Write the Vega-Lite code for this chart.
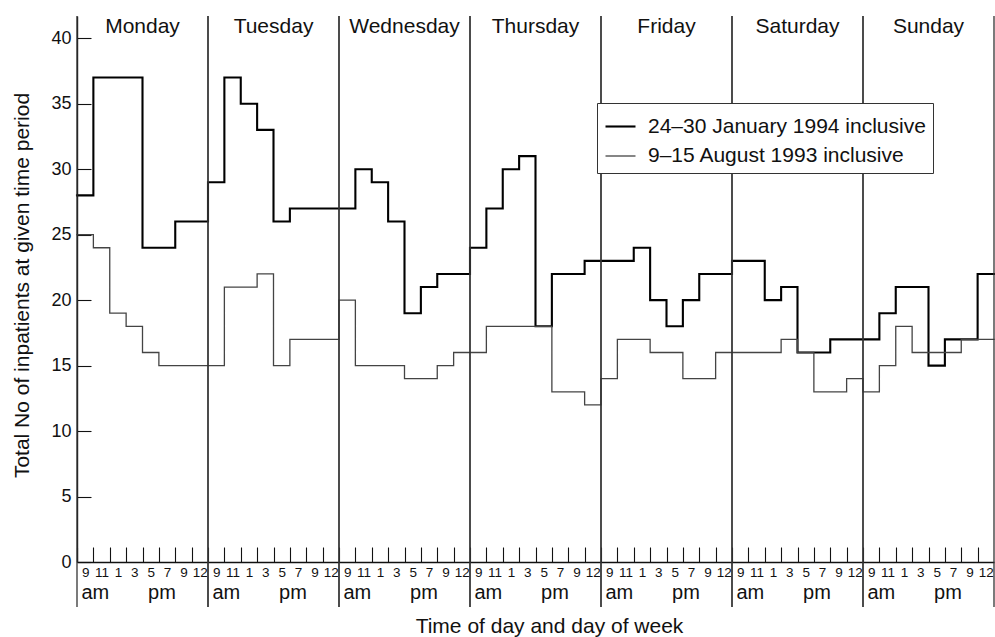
{
  "$schema": "https://vega.github.io/schema/vega-lite/v6.json",
  "width": 917,
  "height": 546,
  "autosize": {"type": "none"},
  "padding": {"left": 77, "top": 16, "right": 1, "bottom": 75},
  "background": "white",
  "config": {"view": {"stroke": null}, "font": "Liberation Sans", "text": {"font": "Liberation Sans"}},
  "datasets": {
    "days": [
      {"day": "Monday", "start": 0, "end": 8},
      {"day": "Tuesday", "start": 8, "end": 16},
      {"day": "Wednesday", "start": 16, "end": 24},
      {"day": "Thursday", "start": 24, "end": 32},
      {"day": "Friday", "start": 32, "end": 40},
      {"day": "Saturday", "start": 40, "end": 48},
      {"day": "Sunday", "start": 48, "end": 56}
    ],
    "counts": [
      {"period": "Jan", "slot": 0, "patients": 28}, {"period": "Jan", "slot": 1, "patients": 37}, {"period": "Jan", "slot": 2, "patients": 37}, {"period": "Jan", "slot": 3, "patients": 37},
      {"period": "Jan", "slot": 4, "patients": 24}, {"period": "Jan", "slot": 5, "patients": 24}, {"period": "Jan", "slot": 6, "patients": 26}, {"period": "Jan", "slot": 7, "patients": 26},
      {"period": "Jan", "slot": 8, "patients": 29}, {"period": "Jan", "slot": 9, "patients": 37}, {"period": "Jan", "slot": 10, "patients": 35}, {"period": "Jan", "slot": 11, "patients": 33},
      {"period": "Jan", "slot": 12, "patients": 26}, {"period": "Jan", "slot": 13, "patients": 27}, {"period": "Jan", "slot": 14, "patients": 27}, {"period": "Jan", "slot": 15, "patients": 27},
      {"period": "Jan", "slot": 16, "patients": 27}, {"period": "Jan", "slot": 17, "patients": 30}, {"period": "Jan", "slot": 18, "patients": 29}, {"period": "Jan", "slot": 19, "patients": 26},
      {"period": "Jan", "slot": 20, "patients": 19}, {"period": "Jan", "slot": 21, "patients": 21}, {"period": "Jan", "slot": 22, "patients": 22}, {"period": "Jan", "slot": 23, "patients": 22},
      {"period": "Jan", "slot": 24, "patients": 24}, {"period": "Jan", "slot": 25, "patients": 27}, {"period": "Jan", "slot": 26, "patients": 30}, {"period": "Jan", "slot": 27, "patients": 31},
      {"period": "Jan", "slot": 28, "patients": 18}, {"period": "Jan", "slot": 29, "patients": 22}, {"period": "Jan", "slot": 30, "patients": 22}, {"period": "Jan", "slot": 31, "patients": 23},
      {"period": "Jan", "slot": 32, "patients": 23}, {"period": "Jan", "slot": 33, "patients": 23}, {"period": "Jan", "slot": 34, "patients": 24}, {"period": "Jan", "slot": 35, "patients": 20},
      {"period": "Jan", "slot": 36, "patients": 18}, {"period": "Jan", "slot": 37, "patients": 20}, {"period": "Jan", "slot": 38, "patients": 22}, {"period": "Jan", "slot": 39, "patients": 22},
      {"period": "Jan", "slot": 40, "patients": 23}, {"period": "Jan", "slot": 41, "patients": 23}, {"period": "Jan", "slot": 42, "patients": 20}, {"period": "Jan", "slot": 43, "patients": 21},
      {"period": "Jan", "slot": 44, "patients": 16}, {"period": "Jan", "slot": 45, "patients": 16}, {"period": "Jan", "slot": 46, "patients": 17}, {"period": "Jan", "slot": 47, "patients": 17},
      {"period": "Jan", "slot": 48, "patients": 17}, {"period": "Jan", "slot": 49, "patients": 19}, {"period": "Jan", "slot": 50, "patients": 21}, {"period": "Jan", "slot": 51, "patients": 21},
      {"period": "Jan", "slot": 52, "patients": 15}, {"period": "Jan", "slot": 53, "patients": 17}, {"period": "Jan", "slot": 54, "patients": 17}, {"period": "Jan", "slot": 55, "patients": 22},
      {"period": "Jan", "slot": 56, "patients": 22},
      {"period": "Aug", "slot": 0, "patients": 25}, {"period": "Aug", "slot": 1, "patients": 24}, {"period": "Aug", "slot": 2, "patients": 19}, {"period": "Aug", "slot": 3, "patients": 18},
      {"period": "Aug", "slot": 4, "patients": 16}, {"period": "Aug", "slot": 5, "patients": 15}, {"period": "Aug", "slot": 6, "patients": 15}, {"period": "Aug", "slot": 7, "patients": 15},
      {"period": "Aug", "slot": 8, "patients": 15}, {"period": "Aug", "slot": 9, "patients": 21}, {"period": "Aug", "slot": 10, "patients": 21}, {"period": "Aug", "slot": 11, "patients": 22},
      {"period": "Aug", "slot": 12, "patients": 15}, {"period": "Aug", "slot": 13, "patients": 17}, {"period": "Aug", "slot": 14, "patients": 17}, {"period": "Aug", "slot": 15, "patients": 17},
      {"period": "Aug", "slot": 16, "patients": 20}, {"period": "Aug", "slot": 17, "patients": 15}, {"period": "Aug", "slot": 18, "patients": 15}, {"period": "Aug", "slot": 19, "patients": 15},
      {"period": "Aug", "slot": 20, "patients": 14}, {"period": "Aug", "slot": 21, "patients": 14}, {"period": "Aug", "slot": 22, "patients": 15}, {"period": "Aug", "slot": 23, "patients": 16},
      {"period": "Aug", "slot": 24, "patients": 16}, {"period": "Aug", "slot": 25, "patients": 18}, {"period": "Aug", "slot": 26, "patients": 18}, {"period": "Aug", "slot": 27, "patients": 18},
      {"period": "Aug", "slot": 28, "patients": 18}, {"period": "Aug", "slot": 29, "patients": 13}, {"period": "Aug", "slot": 30, "patients": 13}, {"period": "Aug", "slot": 31, "patients": 12},
      {"period": "Aug", "slot": 32, "patients": 14}, {"period": "Aug", "slot": 33, "patients": 17}, {"period": "Aug", "slot": 34, "patients": 17}, {"period": "Aug", "slot": 35, "patients": 16},
      {"period": "Aug", "slot": 36, "patients": 16}, {"period": "Aug", "slot": 37, "patients": 14}, {"period": "Aug", "slot": 38, "patients": 14}, {"period": "Aug", "slot": 39, "patients": 16},
      {"period": "Aug", "slot": 40, "patients": 16}, {"period": "Aug", "slot": 41, "patients": 16}, {"period": "Aug", "slot": 42, "patients": 16}, {"period": "Aug", "slot": 43, "patients": 17},
      {"period": "Aug", "slot": 44, "patients": 16}, {"period": "Aug", "slot": 45, "patients": 13}, {"period": "Aug", "slot": 46, "patients": 13}, {"period": "Aug", "slot": 47, "patients": 14},
      {"period": "Aug", "slot": 48, "patients": 13}, {"period": "Aug", "slot": 49, "patients": 15}, {"period": "Aug", "slot": 50, "patients": 18}, {"period": "Aug", "slot": 51, "patients": 16},
      {"period": "Aug", "slot": 52, "patients": 16}, {"period": "Aug", "slot": 53, "patients": 16}, {"period": "Aug", "slot": 54, "patients": 17}, {"period": "Aug", "slot": 55, "patients": 17},
      {"period": "Aug", "slot": 56, "patients": 17}
    ]
  },
  "layer": [
    {
      "data": {"name": "counts"},
      "mark": {"type": "line", "interpolate": "step-after", "strokeJoin": "miter", "strokeCap": "square"},
      "encoding": {
        "x": {
          "field": "slot",
          "type": "quantitative",
          "scale": {"domain": [0, 56], "nice": false, "zero": false},
          "axis": {
            "title": "Time of day and day of week",
            "values": [0,1,2,3,4,5,6,7,8,9,10,11,12,13,14,15,16,17,18,19,20,21,22,23,24,25,26,27,28,29,30,31,32,33,34,35,36,37,38,39,40,41,42,43,44,45,46,47,48,49,50,51,52,53,54,55],
            "tickCount": 200,
            "labelExpr": "['9','11','1','3','5','7','9','12'][datum.value % 8]",
            "tickSize": -15,
            "tickColor": "#111111",
            "tickWidth": 1.1,
            "labelOffset": 8.19,
            "labelPadding": 18,
            "labelFontSize": 13.5,
            "labelColor": "#111111",
            "labelOverlap": false,
            "labelFlush": false,
            "labelBound": false,
            "domainColor": "#111111",
            "domainWidth": 1.4,
            "grid": false,
            "titleFontSize": 21,
            "titleFontWeight": "normal",
            "titleColor": "#111111",
            "titleX": 472,
            "titleY": 70,
            "titleAlign": "center",
            "titleBaseline": "alphabetic"
          }
        },
        "y": {
          "field": "patients",
          "type": "quantitative",
          "scale": {"domain": [0, 41.7], "nice": false, "zero": true},
          "axis": {
            "title": "Total No of inpatients at given time period",
            "values": [0, 5, 10, 15, 20, 25, 30, 35, 40],
            "tickCount": 50,
            "tickSize": -14,
            "tickColor": "#111111",
            "tickWidth": 1.1,
            "labelPadding": 20,
            "labelFontSize": 18,
            "labelColor": "#111111",
            "domainColor": "#111111",
            "domainWidth": 1.4,
            "grid": false,
            "titleFontSize": 21,
            "titleFontWeight": "normal",
            "titleColor": "#111111",
            "titleAngle": -90,
            "titleX": -55,
            "titleY": 269,
            "titleAlign": "center",
            "titleBaseline": "middle"
          }
        },
        "color": {
          "field": "period",
          "type": "nominal",
          "scale": {"domain": ["Jan", "Aug"], "range": ["#000000", "#444444"]},
          "legend": {
            "orient": "none",
            "legendX": 520,
            "legendY": 87,
            "title": null,
            "symbolType": "stroke",
            "symbolSize": 900,
            "labelFontSize": 21,
            "labelColor": "#111111",
            "labelLimit": 400,
            "labelOffset": 11,
            "labelExpr": "datum.value == 'Jan' ? '24–30 January 1994 inclusive' : '9–15  August 1993 inclusive'",
            "strokeColor": "#333333",
            "fillColor": "white",
            "padding": 7,
            "rowPadding": 3
          }
        },
        "strokeWidth": {
          "field": "period",
          "type": "nominal",
          "scale": {"domain": ["Jan", "Aug"], "range": [2.1, 1.3]},
          "legend": {
            "orient": "none",
            "legendX": 520,
            "legendY": 87,
            "title": null,
            "symbolType": "stroke",
            "symbolSize": 900,
            "labelFontSize": 21,
            "labelColor": "#111111",
            "labelLimit": 400,
            "labelOffset": 11,
            "labelExpr": "datum.value == 'Jan' ? '24–30 January 1994 inclusive' : '9–15  August 1993 inclusive'",
            "strokeColor": "#333333",
            "fillColor": "white",
            "padding": 7,
            "rowPadding": 3
          }
        }
      }
    },
    {
      "data": {"name": "days"},
      "mark": {"type": "rule", "color": "#333333", "strokeWidth": 1.3},
      "encoding": {
        "x": {"field": "start", "type": "quantitative"},
        "y": {"datum": 41.7},
        "y2": {"datum": -3.44}
      }
    },
    {
      "data": {"name": "days"},
      "mark": {"type": "rule", "color": "#333333", "strokeWidth": 1.3},
      "encoding": {
        "x": {"field": "end", "type": "quantitative"},
        "y": {"datum": 41.7},
        "y2": {"datum": -3.44}
      }
    },
    {
      "data": {"name": "days"},
      "mark": {"type": "text", "fontSize": 21, "align": "center", "baseline": "alphabetic", "dx": 65.5, "color": "#111111"},
      "encoding": {
        "x": {"field": "start", "type": "quantitative"},
        "y": {"datum": 40.37},
        "text": {"field": "day"}
      }
    },
    {
      "data": {"name": "days"},
      "mark": {"type": "text", "fontSize": 20, "align": "left", "baseline": "alphabetic", "dx": 4.5, "color": "#111111", "text": "am"},
      "encoding": {
        "x": {"field": "start", "type": "quantitative"},
        "y": {"datum": -2.85}
      }
    },
    {
      "data": {"name": "days"},
      "mark": {"type": "text", "fontSize": 20, "align": "center", "baseline": "alphabetic", "dx": 85, "color": "#111111", "text": "pm"},
      "encoding": {
        "x": {"field": "start", "type": "quantitative"},
        "y": {"datum": -2.85}
      }
    }
  ]
}
